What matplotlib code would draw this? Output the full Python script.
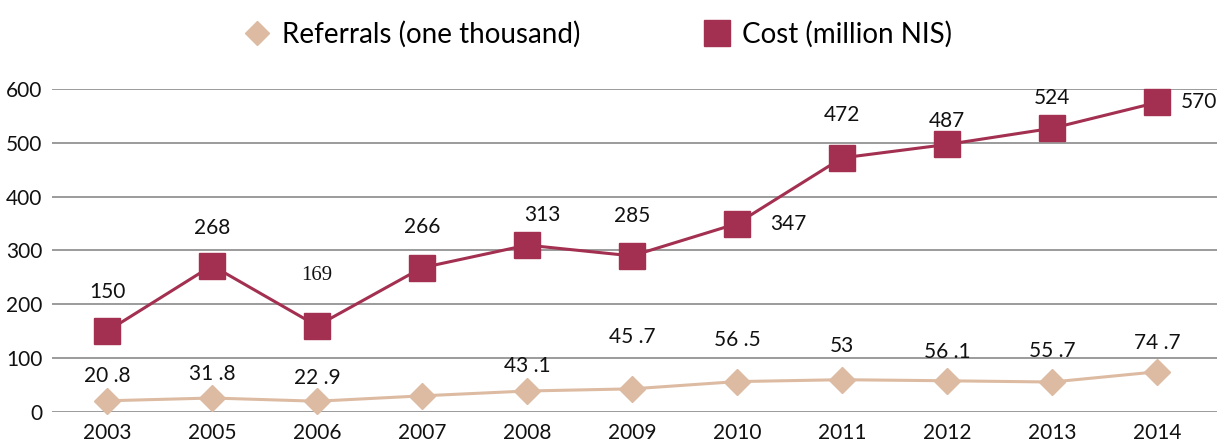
import matplotlib.pyplot as plt

years = ["2003", "2005", "2006", "2007", "2008", "2009", "2010", "2011", "2012", "2013", "2014"]
referrals = [20.8, 26, 20, 30, 39, 43, 56.5, 60, 58, 55.7, 74.7]
referral_labels = ["20 .8", "31 .8", "22 .9", "", "43 .1", "45 .7", "56 .5", "53", "56 .1", "55 .7", "74 .7"]
cost = [150, 272, 160, 268, 310, 290, 350, 472, 497, 527, 575]
cost_labels = ["150", "268", "169", "266", "313", "285", "347", "472", "487", "524", "570"]

# label offsets in points (dx, dy)
ref_off = [(0, 18), (0, 17), (0, 17), (0, 0), (0, 18), (0, 37), (0, 30), (0, 24), (0, 21), (0, 22), (0, 21)]
cost_off = [(0, 28), (0, 27), (0, 36), (0, 29), (11, 22), (0, 29), (37, 0), (0, 31), (0, 17), (0, 22), (30, 0)]

plt.rcParams['font.family'] = ['Lato', 'DejaVu Sans']

fig = plt.figure(figsize=(12.17, 4.44), dpi=100)
ax = fig.add_axes([52 / 1217, 32 / 444, 1165 / 1217, 323 / 444])

red = '#A33050'
tan = '#DDBBA2'
x = list(range(len(years)))

ax.plot(x, referrals, color=tan, lw=2.2, marker='D', ms=13, mec=tan, clip_on=False, zorder=3,
        label='Referrals (one thousand)')
ax.plot(x, cost, color=red, lw=2.2, marker='s', ms=19, mec=red, clip_on=False, zorder=3,
        label='Cost (million NIS)')

for i in x:
    if referral_labels[i]:
        ax.annotate(referral_labels[i], (i, referrals[i]), xytext=ref_off[i], textcoords='offset points',
                    ha='center', va='center', fontsize=15, color='#111111')
    fam = ['Liberation Serif'] if cost_labels[i] == "169" else None
    ax.annotate(cost_labels[i], (i, cost[i]), xytext=cost_off[i], textcoords='offset points',
                ha='center', va='center', fontsize=15, color='#111111', family=fam)

ax.set_xlim(-0.524, 10.571)
ax.set_ylim(0, 600)
ax.set_yticks(range(0, 601, 100))
ax.set_xticks(x)
ax.set_xticklabels(years)
ax.grid(axis='y', color='#8a8a8a', lw=1.2)
ax.set_axisbelow(True)
for s in ax.spines.values():
    s.set_visible(False)
ax.tick_params(axis='both', length=0, labelsize=15, colors='#111111')
ax.tick_params(axis='x', pad=8)
ax.tick_params(axis='y', pad=7)

leg_ref = plt.Line2D([], [], ls='none', marker='D', ms=12, color=tan, mec=tan)
leg_cost = plt.Line2D([], [], ls='none', marker='s', ms=19, color=red, mec=red)
fig.legend([leg_ref, leg_cost], ['Referrals (one thousand)', 'Cost (million NIS)'],
           loc='center', bbox_to_anchor=(0.49, 1 - 34 / 444), ncol=2, frameon=False,
           fontsize=20, columnspacing=4.3, handletextpad=0.3, handlelength=1.2)

fig.savefig('out.png', dpi=100)
